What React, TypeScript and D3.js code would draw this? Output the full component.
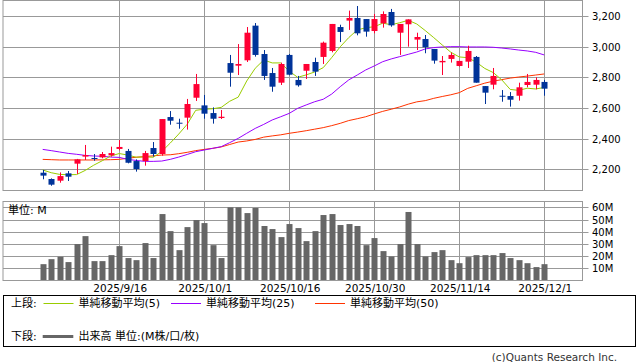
import React from "react";
import * as d3 from "d3";

const dates = [
  "9/2","9/3","9/4","9/5","9/8","9/9","9/10","9/11","9/12","9/16",
  "9/17","9/18","9/19","9/22","9/24","9/25","9/26","9/29","9/30","10/1",
  "10/2","10/3","10/6","10/7","10/8","10/9","10/10","10/14","10/15","10/16",
  "10/17","10/20","10/21","10/22","10/23","10/24","10/27","10/28","10/29","10/30",
  "10/31","11/4","11/5","11/6","11/7","11/10","11/11","11/12","11/13","11/14",
  "11/17","11/18","11/19","11/20","11/21","11/25","11/26","11/27","11/28","12/1",
];
const openP = [
  2178,2137,2126,2174,2237,2283,2274,2278,2291,2333,
  2320,2254,2254,2339,2300,2541,2504,2537,2667,2617,
  2567,2535,2893,2876,2911,3137,2952,2828,2765,2946,
  2783,2843,2900,2933,2972,3128,3170,3187,3180,3102,
  3152,3226,3091,3146,3046,3050,2985,2898,2920,2874,
  2902,2933,2743,2752,2680,2678,2680,2750,2752,2770,
];
const highP = [
  2196,2141,2180,2189,2268,2359,2300,2313,2348,2391,
  2333,2265,2320,2378,2528,2580,2530,2659,2822,2685,
  2604,2587,2946,3017,3128,3154,2978,2861,2896,2952,
  2809,2887,2928,3033,3148,3143,3235,3265,3180,3213,
  3230,3246,3148,3178,3091,3076,2985,2939,2961,2907,
  3006,2939,2743,2861,2717,2704,2765,2822,2800,2783,
];
const lowP = [
  2135,2093,2113,2124,2170,2261,2256,2272,2283,2324,
  2239,2185,2224,2283,2289,2491,2465,2459,2646,2530,
  2498,2528,2739,2815,2900,2935,2783,2706,2750,2813,
  2739,2789,2809,2887,2963,3030,3109,3074,3065,3087,
  3124,3130,2946,3000,2978,2957,2889,2815,2896,2870,
  2861,2765,2626,2722,2641,2609,2648,2735,2722,2680,
];
const closeP = [
  2159,2100,2156,2152,2265,2293,2270,2300,2306,2346,
  2243,2202,2306,2300,2528,2517,2498,2626,2756,2563,
  2530,2543,2830,2887,3091,2946,2809,2739,2887,2817,
  2748,2887,2837,3026,3148,3096,3187,3087,3098,3180,
  3213,3139,3148,3178,3063,2996,2909,2907,2946,2907,
  2972,2765,2700,2809,2676,2654,2735,2770,2783,2726,
];
const ma5 = [
  2196,2178,2167,2165,2166,2193,2227,2256,2287,2303,
  2293,2279,2281,2279,2316,2371,2430,2494,2585,2592,
  2595,2604,2644,2671,2776,2859,2913,2894,2894,2840,
  2800,2816,2835,2863,2929,2999,3059,3109,3123,3130,
  3153,3143,3156,3172,3148,3105,3059,3011,2964,2933,
  2928,2899,2858,2831,2784,2721,2715,2729,2724,2734,
];
const ma25 = [
  2330,2322,2313,2304,2298,2291,2287,2285,2280,2278,
  2265,2258,2252,2252,2254,2265,2280,2297,2315,2326,
  2337,2348,2374,2402,2435,2467,2493,2522,2543,2565,
  2598,2620,2641,2657,2691,2739,2783,2815,2848,2874,
  2902,2920,2935,2950,2965,2985,2994,2998,3000,3000,
  2998,2998,2998,2996,2991,2985,2978,2972,2963,2946,
];
const ma50 = [
  2265,2263,2261,2261,2261,2261,2261,2262,2263,2265,
  2272,2279,2283,2288,2293,2295,2302,2311,2322,2330,
  2337,2346,2362,2378,2385,2395,2410,2418,2425,2435,
  2443,2452,2462,2472,2485,2500,2518,2530,2543,2561,
  2578,2592,2607,2625,2640,2648,2663,2675,2686,2700,
  2728,2745,2762,2775,2785,2795,2802,2808,2815,2822,
];
const volume = [
  13.4,17.5,19.5,15.1,29.9,36.4,15.9,15.9,20.8,28.2,
  18.4,16.7,30.7,18.4,54.5,40.5,24.9,43.8,49.6,47.1,
  29.0,18.4,60.0,60.0,55.3,59.5,44.7,42.2,35.6,46.3,
  43.0,32.3,40.5,53.7,54.5,45.5,46.3,44.7,29.0,34.8,
  24.1,19.7,29.9,56.2,29.9,19.7,23.3,24.9,16.7,14.2,
  19.2,20.8,20.8,20.8,22.5,18.4,16.7,14.2,11.0,13.4,
];
const priceTicks = [2200, 2400, 2600, 2800, 3000, 3200];
const volTicks = [10, 20, 30, 40, 50, 60];
const volTickLabels = ["10M", "20M", "30M", "40M", "50M", "60M"];
const dateTickIdx = [9, 19, 29, 39, 49, 59];
const dateTickLabels = ["2025/9/16", "2025/10/1", "2025/10/16", "2025/10/30", "2025/11/14", "2025/12/1"];
const legendItems = [
  { label: "単純移動平均(5)", color: "#99cc00", x: 43.5 },
  { label: "単純移動平均(25)", color: "#9900ff", x: 171 },
  { label: "単純移動平均(50)", color: "#ff3300", x: 315 },
];

const RED = "#ff0033";
const BLUE = "#003399";
const GRID = "#999999";
const FONT = "'DejaVu Sans', 'Noto Sans CJK JP', sans-serif";

export default function App() {
  const W = 638, H = 362;
  const L = 3, R = 582.5;
  const pTop = 0.5, pBot = 190.5;
  const vTop = 201.5, vBot = 280.5;

  const x = d3.scaleLinear().domain([-4.67, 63.5]).range([L, R]);
  const y = d3.scaleLinear().domain([2062, 3301]).range([pBot, pTop]);
  const yv = d3.scaleLinear().domain([0, 64.8]).range([vBot, vTop]);

  const idx = d3.range(dates.length);
  const line = (arr: number[]) =>
    d3.line<number>().x((i) => x(i)).y((i) => y(arr[i]))(idx) || "";

  const bw = 6;

  return (
    <svg width={W} height={H} style={{ position: "absolute", left: 0, top: 0 }} fontFamily={FONT}>
      <rect x={0} y={0} width={W} height={H} fill="#fff" />
      {/* price panel grid */}
      {priceTicks.map((t) => (
        <g key={"pt" + t}>
          <line x1={L} x2={R + 6} y1={Math.round(y(t)) + 0.5} y2={Math.round(y(t)) + 0.5} stroke={GRID} />
          <text x={592} y={Math.round(y(t)) + 0.5} dy="0.35em" fontSize={10} fill="#000">
            {d3.format(",")(t)}
          </text>
        </g>
      ))}
      {dateTickIdx.map((i) => (
        <g key={"vt" + i}>
          <line x1={Math.round(x(i)) + 0.5} x2={Math.round(x(i)) + 0.5} y1={pTop} y2={pBot} stroke={GRID} />
          <line x1={Math.round(x(i)) + 0.5} x2={Math.round(x(i)) + 0.5} y1={vTop} y2={vBot} stroke={GRID} />
        </g>
      ))}
      <rect x={L} y={pTop} width={R - L} height={pBot - pTop} fill="none" stroke={GRID} />

      {/* moving averages */}
      <path d={line(ma50)} fill="none" stroke="#ff3300" strokeWidth={1} />
      <path d={line(ma25)} fill="none" stroke="#9900ff" strokeWidth={1} />
      <path d={line(ma5)} fill="none" stroke="#99cc00" strokeWidth={1} />

      {/* candles */}
      {idx.map((i) => {
        const up = closeP[i] >= openP[i];
        const c = up ? RED : BLUE;
        const cx = Math.round(x(i)) + 0.5;
        const top = y(Math.max(openP[i], closeP[i]));
        const bot = y(Math.min(openP[i], closeP[i]));
        return (
          <g key={"c" + i}>
            <line x1={cx} x2={cx} y1={y(highP[i])} y2={y(lowP[i])} stroke={c} strokeWidth={1} />
            <rect x={cx - bw / 2} y={top} width={bw} height={Math.max(1, bot - top)} fill={c} />
          </g>
        );
      })}

      {/* volume panel */}
      {volTicks.map((t, k) => (
        <g key={"vtk" + t}>
          <line x1={L} x2={R + 6} y1={Math.round(yv(t)) + 0.5} y2={Math.round(yv(t)) + 0.5} stroke={GRID} />
          <text x={592} y={Math.round(yv(t)) + 0.5} dy="0.35em" fontSize={10} fill="#000">
            {volTickLabels[k]}
          </text>
        </g>
      ))}
      {idx.map((i) => (
        <rect key={"v" + i} x={Math.round(x(i)) + 0.5 - bw / 2} y={yv(volume[i])} width={bw} height={yv(0) - yv(volume[i])} fill="#666666" />
      ))}
      <rect x={L} y={vTop} width={R - L} height={vBot - vTop} fill="none" stroke={GRID} />
      <text x={8} y={210} dy="0.35em" fontSize={11} fill="#000">単位: M</text>

      {/* date labels */}
      {dateTickIdx.map((i, k) => (
        <text key={"dl" + i} x={x(i) + 1} y={288} dy="0.35em" fontSize={10.5} textAnchor="middle" fill="#000">
          {dateTickLabels[k]}
        </text>
      ))}

      {/* legend */}
      <rect x={3.5} y={295.5} width={632} height={51} fill="none" stroke="#000" />
      <text x={11} y={303.5} dy="0.35em" fontSize={11} fill="#000">上段:</text>
      {legendItems.map((it) => (
        <g key={it.label}>
          <line x1={it.x} x2={it.x + 30} y1={303.5} y2={303.5} stroke={it.color} strokeWidth={1} />
          <text x={it.x + 35} y={303.5} dy="0.35em" fontSize={11} fill="#000">{it.label}</text>
        </g>
      ))}
      <text x={11} y={336.5} dy="0.35em" fontSize={11} fill="#000">下段:</text>
      <line x1={42.7} x2={73.3} y1={336.5} y2={336.5} stroke="#666666" strokeWidth={3} />
      <text x={78.5} y={336.5} dy="0.35em" fontSize={11} fill="#000">出来高 単位:(M株/口/枚)</text>

      <text x={617} y={357} dy="0.35em" fontSize={10.5} textAnchor="end" fill="#333">(c)Quants Research Inc.</text>
    </svg>
  );
}
